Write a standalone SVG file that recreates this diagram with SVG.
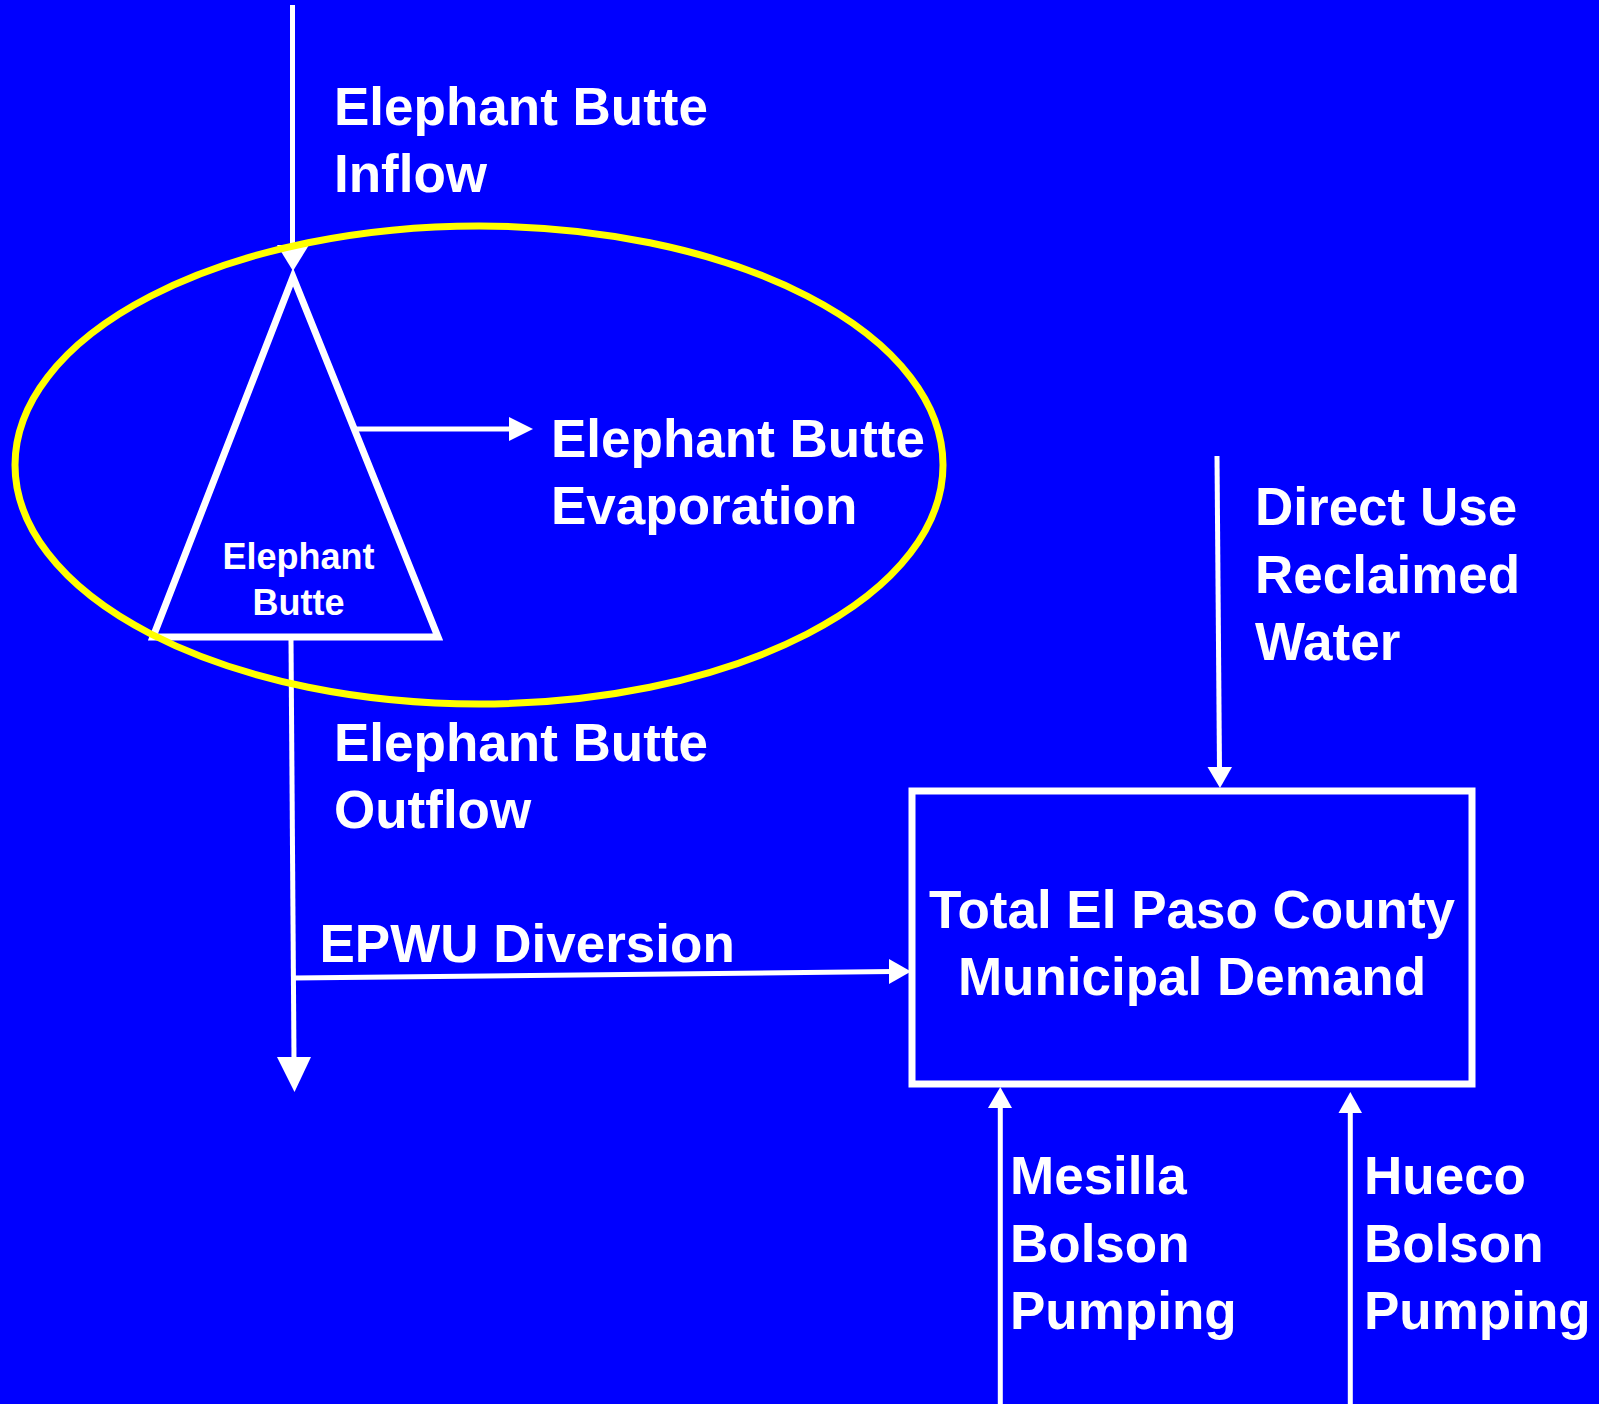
<svg xmlns="http://www.w3.org/2000/svg" width="1599" height="1404" viewBox="0 0 1599 1404">
<style>
.bg{fill:#0000FF}
.ln{stroke:#FFFFFF;stroke-width:5;fill:none}
.head{fill:#FFFFFF;stroke:none}
.shape{fill:none;stroke:#FFFFFF;stroke-width:7;stroke-linejoin:miter}
.lbl{font-family:"Liberation Sans",Arial,sans-serif;font-weight:bold;font-size:53px;fill:#FFFFFF}
.small{font-size:36px}
.mid{text-anchor:middle}
</style>
<rect class="bg" x="0" y="0" width="1599" height="1404"/>
<g id="connectors">
  <line class="ln" x1="292.5" y1="5" x2="292.5" y2="250"/>
  <polygon class="head" points="277,245 309,245 293,271"/>
  <line class="ln" x1="291" y1="640" x2="294" y2="1060"/>
  <polygon class="head" points="277,1057 311,1057 294.5,1092"/>
  <line class="ln" x1="294" y1="978" x2="892" y2="971.5"/>
  <polygon class="head" points="889,959 889,984 911,971.5"/>
  <line class="ln" x1="354" y1="429" x2="512" y2="429"/>
  <polygon class="head" points="509,417 509,441 533,429"/>
  <line class="ln" x1="1217" y1="456" x2="1219.5" y2="770"/>
  <polygon class="head" points="1207.5,767 1232,767 1220,788"/>
  <line class="ln" x1="1000.3" y1="1404" x2="1000.3" y2="1105"/>
  <polygon class="head" points="988,1108 1012,1108 1000.3,1087"/>
  <line class="ln" x1="1350.3" y1="1404" x2="1350.3" y2="1110"/>
  <polygon class="head" points="1338.5,1113 1362,1113 1350.3,1092"/>
</g>
<g id="inflow-label">
  <text class="lbl" x="334" y="125">Elephant Butte</text>
  <text class="lbl" x="334" y="192">Inflow</text>
</g>
<g id="elephant-butte">
  <polygon class="shape" points="293,277 438,637 153,637"/>
  <text class="lbl small mid" x="298.5" y="569">Elephant</text>
  <text class="lbl small mid" x="298.5" y="615">Butte</text>
</g>
<g id="evaporation-label">
  <text class="lbl" x="551" y="457">Elephant Butte</text>
  <text class="lbl" x="551" y="524">Evaporation</text>
</g>
<g id="highlight">
  <ellipse cx="479" cy="465" rx="464" ry="239" fill="none" stroke="#FFFF00" stroke-width="7"/>
</g>
<g id="outflow-label">
  <text class="lbl" x="334" y="761">Elephant Butte</text>
  <text class="lbl" x="334" y="828">Outflow</text>
</g>
<g id="epwu-label">
  <text class="lbl" x="319.5" y="962">EPWU Diversion</text>
</g>
<g id="direct-use-label">
  <text class="lbl" x="1255" y="525">Direct Use</text>
  <text class="lbl" x="1255" y="593">Reclaimed</text>
  <text class="lbl" x="1255" y="660">Water</text>
</g>
<g id="demand">
  <rect class="shape" x="912" y="791" width="560" height="293"/>
  <text class="lbl mid" x="1192" y="928">Total El Paso County</text>
  <text class="lbl mid" x="1192" y="995">Municipal Demand</text>
</g>
<g id="mesilla-label">
  <text class="lbl" x="1010" y="1194">Mesilla</text>
  <text class="lbl" x="1010" y="1262">Bolson</text>
  <text class="lbl" x="1010" y="1329">Pumping</text>
</g>
<g id="hueco-label">
  <text class="lbl" x="1364" y="1194">Hueco</text>
  <text class="lbl" x="1364" y="1262">Bolson</text>
  <text class="lbl" x="1364" y="1329">Pumping</text>
</g>
</svg>
